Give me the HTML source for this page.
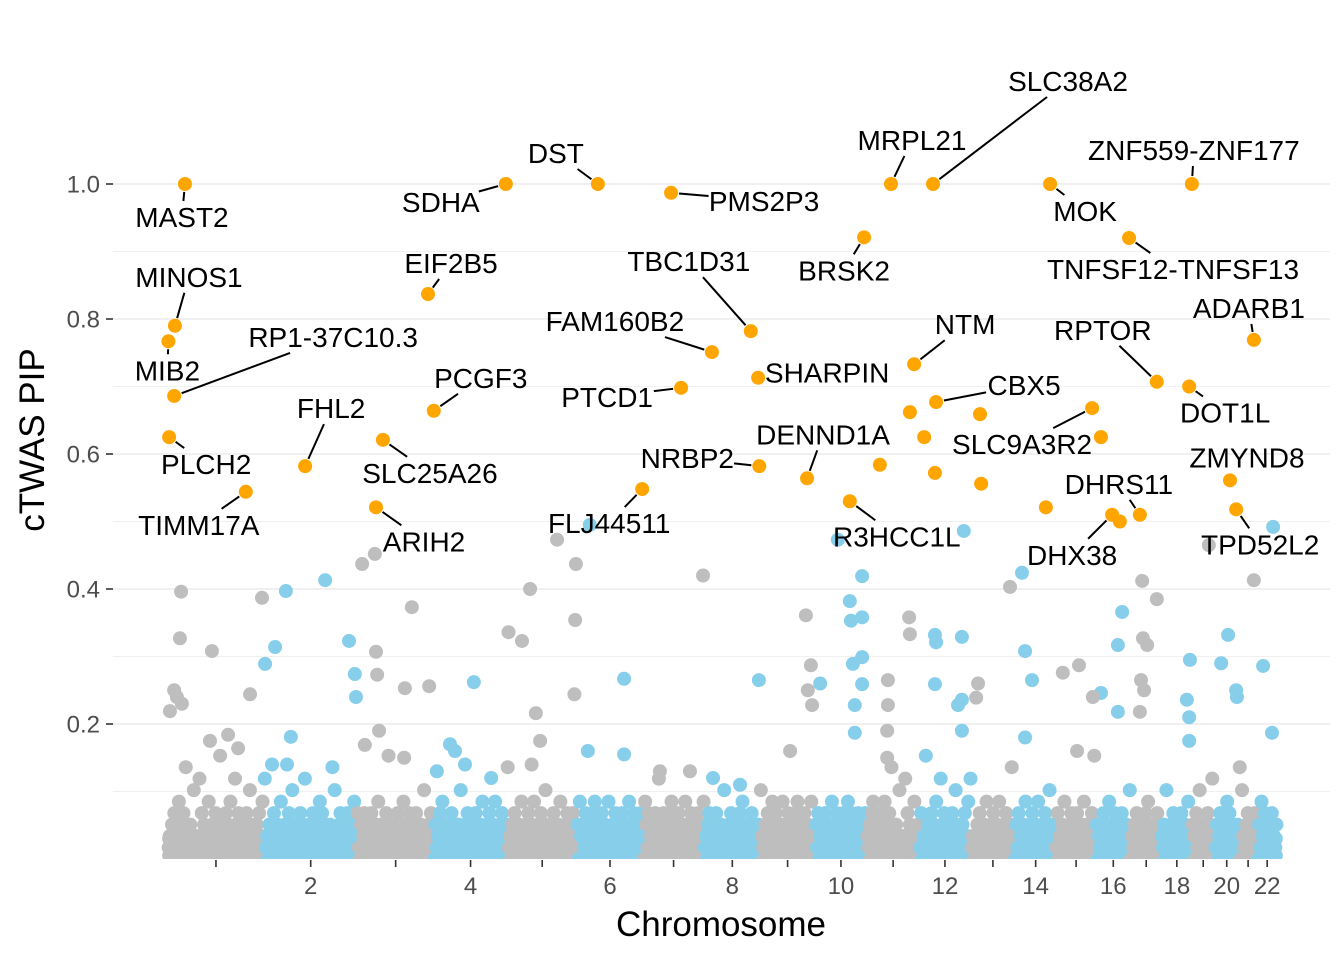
<!DOCTYPE html>
<html><head><meta charset="utf-8">
<style>
html,body{margin:0;padding:0;background:#fff;}
svg{display:block;}
text{font-family:"Liberation Sans",Arial,sans-serif;}
</style></head>
<body>
<svg id="chart" width="1344" height="960" viewBox="0 0 1344 960" xmlns="http://www.w3.org/2000/svg">
<defs><clipPath id="panelClip"><rect x="113" y="0" width="1231" height="859"/></clipPath></defs>
<g id="grid"></g>
<g id="points" clip-path="url(#panelClip)"></g>
<g id="labels"></g>
<g id="axes"></g>
<text x="0" y="0" transform="translate(44,440) rotate(-90)" text-anchor="middle" font-size="35" fill="#000">cTWAS PIP</text>
<text x="721" y="936" text-anchor="middle" font-size="35" fill="#000">Chromosome</text>
</svg>
<script>
// ---- data ----
const chrLengths = [249,243,198,191,181,171,159,146,141,136,135,134,115,107,103,90,81,78,59,63,48,51];
const chrTickLabels = ["","2","","4","","6","","8","","10","","12","","14","","16","","18","","20","","22"];
const yTicks = [0.2,0.4,0.6,0.8,1.0];
const yTickLabels = ["0.2","0.4","0.6","0.8","1.0"];
const hitPos = [44,18,1,16,3,202,356,877,675,690,558,540,1116,1306,1513,1412,1332,1532,1535,1231,1659,1877,1986,1807,1937,1994,1926,1963,1848,1991,2108,2111,1770,2290,2658,2495,2567,2651,2819,2399,2422,2523,2451,2471,2279,2757,2773];
const hitPip = [1.0,0.79,0.767,0.686,0.625,0.544,0.582,1.0,0.837,0.664,0.621,0.521,1.0,0.987,0.782,0.751,0.698,0.713,0.582,0.548,0.564,1.0,1.0,0.921,0.733,0.677,0.662,0.625,0.584,0.572,0.659,0.556,0.530,1.0,1.0,0.92,0.707,0.70,0.769,0.668,0.625,0.51,0.51,0.50,0.521,0.561,0.518];
const hitLabel = ["MAST2","MINOS1","MIB2","RP1-37C10.3","PLCH2","TIMM17A","FHL2","SDHA","EIF2B5","PCGF3","SLC25A26","ARIH2","DST","PMS2P3","TBC1D31","FAM160B2","PTCD1","SHARPIN","NRBP2","FLJ44511","DENND1A","MRPL21","SLC38A2","BRSK2","NTM","CBX5","","","","","","","R3HCC1L","MOK","ZNF559-ZNF177","TNFSF12-TNFSF13","RPTOR","DOT1L","ADARB1","SLC9A3R2","","DHRS11","DHX38","","","ZMYND8","TPD52L2"];
const bgPos = [34,31,114,5,16,23,36,109,156,213,244,182,306,278,252,319,270,309,408,470,485,488,504,537,540,543,548,511,633,615,678,613,794,732,745,771,839,698,884,919,940,955,966,944,1010,1059,1057,1055,1095,1184,1090,1184,1389,1277,1355,1534,1415,1485,1656,1669,1661,1672,1693,1615,1739,1770,1773,1778,1802,1783,1802,1802,1802,1783,1924,1926,1869,1869,1867,1867,1991,1994,2061,1991,2051,2061,2061,2103,2098,2066,2186,2217,2225,2243,2225,2323,2365,2360,2477,2466,2422,2401,2466,2529,2567,2531,2542,2526,2534,2523,2645,2653,2651,2651,2752,2734,2773,2775,2702,2819,2869,2843,2866];
const bgPip = [.396,.327,.308,.219,.25,.24,.23,.175,.184,.244,.387,.164,.397,.314,.289,.181,.14,.14,.413,.323,.274,.24,.437,.452,.307,.273,.19,.169,.373,.253,.256,.15,.262,.17,.16,.14,.12,.13,.336,.323,.40,.216,.175,.14,.473,.437,.354,.244,.495,.267,.16,.155,.42,.13,.13,.265,.12,.11,.361,.287,.25,.228,.26,.16,.473,.382,.353,.289,.419,.228,.358,.299,.259,.187,.358,.333,.265,.228,.19,.15,.332,.321,.329,.259,.228,.236,.19,.26,.239,.486,.403,.424,.308,.265,.18,.276,.287,.16,.366,.317,.246,.24,.218,.412,.385,.327,.317,.265,.25,.218,.236,.295,.21,.175,.332,.29,.25,.24,.465,.413,.492,.286,.187];
// dense low-PIP floor (digit d => PIP d*0.017), spread along the genome
const floorDigits = "1203140215230418120302610217041302051230140219031240315020731402130240163021030412507120" +
"3021402310521032041260311024031702130241023150420312031806210340123041203152041031240213" +
"0412031520310240913021304120351203402130412031260213042103120415032012041302130621030412" +
"2031402130512031402315021304120381203140213052103140231502130412063120314021305210314023" +
"1402130520314021304152031240132051203140213041203152014023104120531402130412703140213045" +
"0213041203152031402130412035120340213041203126021304210312041503201204130213062103041225" +
"3140213052031402130415203124013205120314021304120315201402310412053140213041203140213045" +
"1203140215230418120302610217041302051230140219031240315020731402130240163021030412507120" +
"2031402130512031402315021304120381203140213052103140231502130412063120314021305210314023" +
"0412031520310240913021304120351203402130412031260213042103120415032012041302130621030412" +
"3021402310521032041260311024031702130241023150420312031806210340123041203152041031240213";

// ---- scales ----
const X0 = 168, PXMB = 0.3852, Y0 = 859, PXPIP = 675;
const xS = g => X0 + g * PXMB;
const yS = p => Y0 - p * PXPIP;
const chrStart = []; let acc = 0;
chrLengths.forEach(l => { chrStart.push(acc); acc += l; });
const totalLen = acc;
function chrOf(g){ for(let i=chrStart.length-1;i>=0;i--) if(g>=chrStart[i]) return i; return 0; }
const colorOf = g => chrOf(g)%2===0 ? "#bebebe" : "#87ceeb";
const NS = "http://www.w3.org/2000/svg";
const R = 7;
function mk(tag, attrs, parent){ const e=document.createElementNS(NS,tag); for(const k in attrs) e.setAttribute(k,attrs[k]); parent.appendChild(e); return e; }

const grid = document.getElementById("grid");
const pts = document.getElementById("points");
const labs = document.getElementById("labels");
const axes = document.getElementById("axes");

for (let k=1; k<=10; k++){
  const v = k/10;
  const major = k%2===0;
  const l = mk("line",{x1:113,x2:1330,y1:yS(v),y2:yS(v),stroke:"#ebebeb","stroke-width":major?1.6:0.8},grid);
  
  
}
yTicks.forEach((v,i)=>{
  const t = mk("line",{x1:106,x2:113,y1:yS(v),y2:yS(v),stroke:"#333","stroke-width":1.6},axes);
  
  
  const tx = mk("text",{x:100,y:yS(v)+8.5,"text-anchor":"end","font-size":24,fill:"#4d4d4d"},axes);
  tx.textContent = yTickLabels[i];
  
  
});
chrLengths.forEach((l,i)=>{
  const cx = xS(chrStart[i] + l/2);
  const t = mk("line",{x1:cx,x2:cx,y1:860,y2:867,stroke:"#333","stroke-width":1.6},axes);
  
  
  if (chrTickLabels[i]){
    const tx = mk("text",{x:cx,y:894,"text-anchor":"middle","font-size":24,fill:"#4d4d4d"},axes);
    tx.textContent = chrTickLabels[i];
    
    
  }
});
const n = floorDigits.length;
for (let i=0;i<n;i+=2){
  const g = (i+1)*totalLen/n;
  const c = mk("circle",{cx:xS(g),cy:yS(0.005),r:R,fill:colorOf(g)},pts);
  
  
  const c2 = mk("circle",{cx:xS(g),cy:yS(0.03),r:R,fill:colorOf(g)},pts);
  
  
}
for (let i=0;i<n;i++){
  const g = (i+0.5)*totalLen/n;
  const p = (+floorDigits[i])*0.017;
  const c = mk("circle",{cx:xS(g),cy:yS(p),r:R,fill:colorOf(g)},pts);
  
  
}
bgPos.forEach((g,i)=>{
  const c = mk("circle",{cx:xS(g),cy:yS(bgPip[i]),r:R,fill:colorOf(g)},pts);
  
  
});
const labelOff = [[-3,33],[14,-49],[-1,29],[159,-59],[37,27],[-47,33],[26,-58],[-65,18],[23,-31],[47,-33],[47,33],[48,34],[-42,-31],[93,8],[-62,-70],[-97,-31],[-74,9],[69,-5],[-72,-8],[-33,34],[16,-44],[21,-44],[135,-103],[-20,33],[51,-40],[88,-17],[0,0],[0,0],[0,0],[0,0],[0,0],[0,0],[47,35],[35,27],[2,-34],[44,31],[-54,-52],[36,26],[-5,-32],[-70,36],[0,0],[-21,-31],[-40,40],[0,0],[0,0],[17,-23],[24,35]];
hitPos.forEach((g,i)=>{
  const px = xS(g), py = yS(hitPip[i]);
  if (hitLabel[i]){
    const lx = px + labelOff[i][0], ly = py + labelOff[i][1];
    const w = hitLabel[i].length*17.5, h = 28;
    const dx = px-lx, dy = py-ly;
    let t = 1;
    if (dx!==0) t = Math.min(t, (w/2+3)/Math.abs(dx));
    if (dy!==0) t = Math.min(t, (h/2+2)/Math.abs(dy));
    const sx = lx+dx*t, sy = ly+dy*t;
    const len = Math.hypot(px-sx,py-sy);
    if (len>10){
      const k = (len-8)/len;
      const s = mk("line",{x1:sx,y1:sy,x2:sx+(px-sx)*k,y2:sy+(py-sy)*k,stroke:"#000","stroke-width":2},labs);
      
      
    }
    const tx = mk("text",{x:lx,y:ly+10,"text-anchor":"middle","font-size":28,fill:"#000"},labs);
    tx.textContent = hitLabel[i];
    
    
  }
});
hitPos.forEach((g,i)=>{
  const c = mk("circle",{cx:xS(g),cy:yS(hitPip[i]),r:R,fill:"#ffa500"},pts);
  
  
});
</script>
</body></html>
